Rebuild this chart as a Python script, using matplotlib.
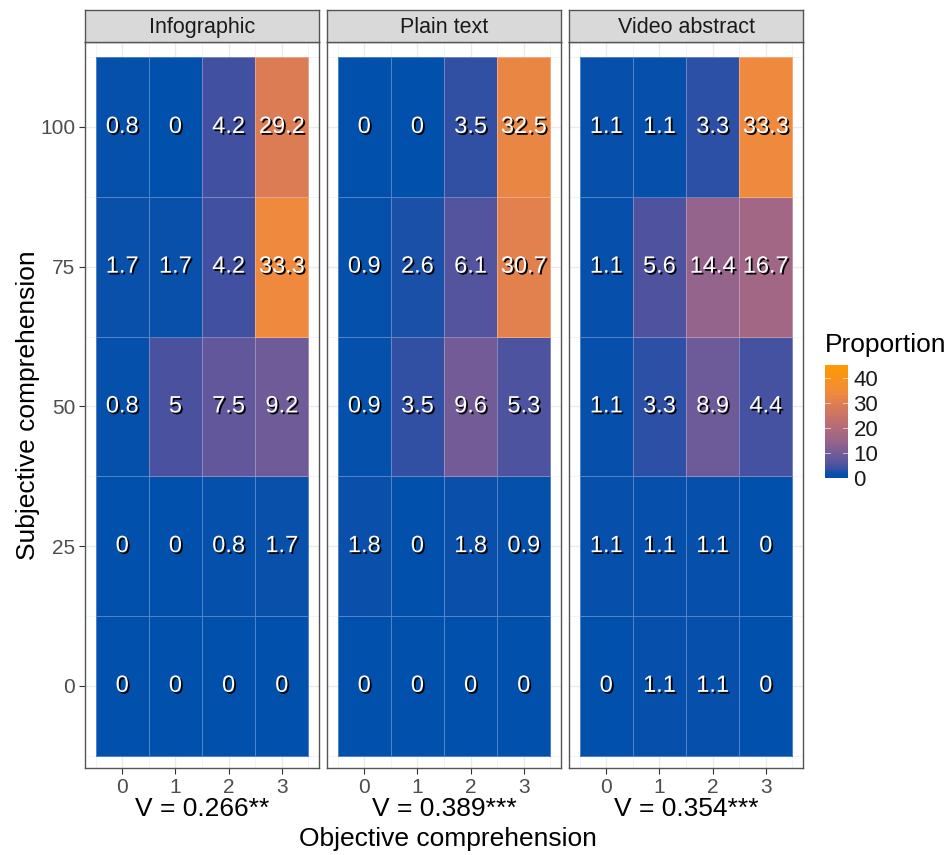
import numpy as np
import matplotlib
matplotlib.use("Agg")
import matplotlib.pyplot as plt
import matplotlib.patheffects as pe
from matplotlib.colors import LinearSegmentedColormap, Normalize
from matplotlib.colorbar import ColorbarBase

plt.rcParams['font.family'] = ['Liberation Sans', 'DejaVu Sans']

# data: rows top to bottom (subjective 100, 75, 50, 25, 0), columns objective 0..3
formats = ["Infographic", "Plain text", "Video abstract"]
subjective = [100, 75, 50, 25, 0]
objective = [0, 1, 2, 3]
infographic = [[0.8, 0, 4.2, 29.2],
               [1.7, 1.7, 4.2, 33.3],
               [0.8, 5, 7.5, 9.2],
               [0, 0, 0.8, 1.7],
               [0, 0, 0, 0]]
plain_text = [[0, 0, 3.5, 32.5],
              [0.9, 2.6, 6.1, 30.7],
              [0.9, 3.5, 9.6, 5.3],
              [1.8, 0, 1.8, 0.9],
              [0, 0, 0, 0]]
video_abstract = [[1.1, 1.1, 3.3, 33.3],
                  [1.1, 5.6, 14.4, 16.7],
                  [1.1, 3.3, 8.9, 4.4],
                  [1.1, 1.1, 1.1, 0],
                  [0, 1.1, 1.1, 0]]
cramers_v = ["V = 0.266**", "V = 0.389***", "V = 0.354***"]
fill_limits = (0, 45)

# colour ramp, blue -> purple -> orange (anchors as fraction of the scale)
ramp = [(0.00, '#0050AC'),
        (0.04, '#0A50AA'),
        (0.09, '#4250A2'),
        (0.17, '#64589A'),
        (0.32, '#96648C'),
        (0.45, '#B46C78'),
        (0.65, '#DC7C55'),
        (0.75, '#F08A3C'),
        (1.00, '#FF9A00')]
cmap = LinearSegmentedColormap.from_list('prop', ramp)
norm = Normalize(*fill_limits)

W, H = 948, 855
fig = plt.figure(figsize=(W / 100, H / 100), dpi=100)


def fx(px):
    return px / W


def fy(py):
    return 1 - py / H


panel_left = [85, 327, 569]
panel_w = 234
panel_top, panel_bottom = 42, 768
strip_top = 10
border = '#555555'
shadow = [pe.withSimplePatchShadow(offset=(1.3, -1.3), shadow_rgbFace='black', alpha=1.0)]

x_edges = np.arange(-0.5, 4, 1)
y_edges = np.arange(-12.5, 125, 25)

for i, (name, vals) in enumerate(zip(formats, [infographic, plain_text, video_abstract])):
    left = panel_left[i]
    ax = fig.add_axes([fx(left), fy(panel_bottom), fx(panel_w), (panel_bottom - panel_top) / H])
    z = np.array(vals)[::-1]  # bottom to top for pcolormesh
    ax.pcolormesh(x_edges, y_edges, z, cmap=cmap, norm=norm,
                  edgecolors=(1, 1, 1, 0.3), linewidth=0.6, zorder=2)
    for r, yv in enumerate(subjective):
        for c, xv in enumerate(objective):
            v = vals[r][c]
            ax.text(xv, yv, f"{v:g}", ha='center', va='center', color='white',
                    fontsize=17, path_effects=shadow, zorder=3)
    ax.set_xlim(-0.7, 3.7)
    ax.set_ylim(-14.7, 115.2)
    ax.set_xticks(objective)
    ax.set_xticks(np.arange(-0.5, 4, 1), minor=True)
    ax.set_yticks(subjective)
    ax.set_yticks(np.arange(-12.5, 125, 25), minor=True)
    ax.grid(True, which='major', color='#EBEBEB', linewidth=1.0, zorder=0)
    ax.grid(True, which='minor', color='#F2F2F2', linewidth=0.6, zorder=0)
    ax.set_axisbelow(True)
    ax.tick_params(which='minor', length=0)
    ax.tick_params(which='major', length=4, color='#333333', labelsize=15,
                   labelcolor='#4D4D4D', width=0.8, pad=3)
    if i > 0:
        ax.tick_params(axis='y', labelleft=False, length=0)
    for s in ax.spines.values():
        s.set_color(border)
        s.set_linewidth(1.0)
    ax.set_xlabel(cramers_v[i], fontsize=19, labelpad=0)

    # facet strip
    sax = fig.add_axes([fx(left), fy(panel_top), fx(panel_w), (panel_top - strip_top) / H])
    sax.set_facecolor('#D9D9D9')
    sax.set_xticks([])
    sax.set_yticks([])
    for s in sax.spines.values():
        s.set_color(border)
        s.set_linewidth(1.0)
    sax.text(0.5, 0.45, name, ha='center', va='center', fontsize=15.5,
             color='#1A1A1A', transform=sax.transAxes)

fig.text(fx(28), fy((panel_top + panel_bottom) / 2), "Subjective comprehension",
         rotation=90, ha='center', va='center', fontsize=19)
fig.text(fx(448), fy(839), "Objective comprehension", ha='center', va='center', fontsize=19)

# colour bar legend
cax = fig.add_axes([fx(825), fy(478), fx(23), 113 / H])
cb = ColorbarBase(cax, cmap=cmap, norm=norm, orientation='vertical', ticks=[0, 10, 20, 30, 40])
cb.outline.set_visible(False)
cax.tick_params(length=0, labelsize=16, labelcolor='#1A1A1A', pad=4)
for t in [10, 20, 30, 40]:
    cax.plot([0, 0.2], [t, t], color='white', linewidth=0.7, alpha=0.6)
    cax.plot([0.8, 1.0], [t, t], color='white', linewidth=0.7, alpha=0.6)
fig.text(fx(825), fy(345), "Proportion", ha='left', va='center', fontsize=19)

fig.savefig("out.png", dpi=100)
